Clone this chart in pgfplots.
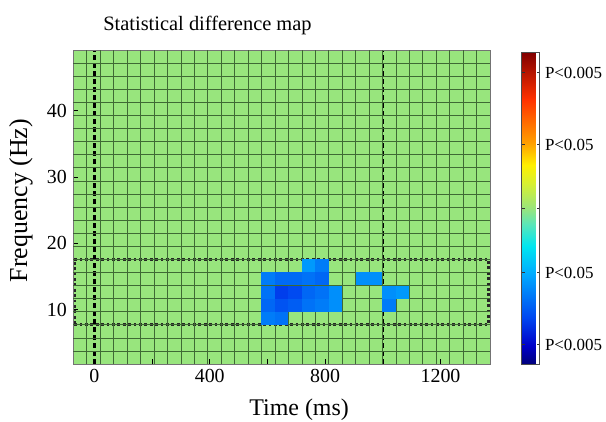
\documentclass[border=0pt]{standalone}
\usepackage{pgfplots}
\usepackage{pgfplotstable}
\pgfplotsset{compat=1.18}
\usepackage{fontspec}
\setmainfont{Liberation Serif}

\definecolor{cellgreen}{RGB}{152,229,125}
\definecolor{cellline}{RGB}{62,105,52}

% one time-frequency bin: 46.6 ms x 1.975 Hz
\pgfdeclareplotmark{cell}{%
  \pgfpathrectangle{\pgfpoint{-6.72bp}{-6.54bp}}{\pgfpoint{13.44bp}{13.08bp}}%
  \pgfusepathqfill}

% significant bins: centre time (ms), centre frequency (Hz), colour value
\pgfplotstableread{
x      y      p
742.5  16.61  0.266
789.1  16.61  0.226
602.7  14.64  0.226
649.3  14.64  0.200
695.9  14.64  0.200
742.5  14.64  0.212
789.1  14.64  0.196
928.9  14.64  0.252
975.5  14.64  0.252
602.7  12.66  0.212
649.3  12.66  0.140
695.9  12.66  0.155
742.5  12.66  0.196
789.1  12.66  0.212
835.7  12.66  0.252
1022.1 12.66  0.252
1068.7 12.66  0.266
602.7  10.69  0.196
649.3  10.69  0.168
695.9  10.69  0.182
742.5  10.69  0.212
789.1  10.69  0.226
835.7  10.69  0.252
1022.1 10.69  0.226
602.7  8.71   0.226
649.3  8.71   0.212
}\sigcells

\begin{document}
\begin{tikzpicture}
\useasboundingbox (0,0) rectangle (606bp,422bp);
\begin{axis}[
    at={(73.3bp,58bp)}, anchor=south west,
    scale only axis, width=416.7bp, height=314bp,
    xmin=-73, xmax=1371.6, ymin=1.8, ymax=49.2,
    axis on top,
    axis background/.style={fill=cellgreen},
    axis line style={black!55, line width=0.8bp},
    xtick={0,400,800,1200}, minor xtick={200,600,1000},
    ytick={10,20,30,40},
    xtick pos=left, ytick pos=left,
    tick align=inside,
    major tick length=5bp, minor tick length=5bp,
    tick style={black, line width=0.9bp},
    extra x ticks={-26.4,20.2,...,1326},
    extra y ticks={3.775,5.75,...,47.3},
    extra x tick labels={}, extra y tick labels={},
    extra tick style={grid=major, major tick length=0pt,
      major grid style={cellline, line width=0.6bp}},
    /pgf/number format/assume math mode=true,
    /pgf/number format/1000 sep={},
    ticklabel style={font=\fontsize{20}{24}\selectfont},
    xticklabel style={yshift=-2bp},
    yticklabel style={xshift=-3bp},
    title={Statistical difference map},
    title style={at={(axis description cs:0.322,1.06)}, anchor=center,
      font=\fontsize{20.5}{24}\selectfont},
    xlabel={Time (ms)},
    xlabel style={at={(axis description cs:0.542,-0.145)}, anchor=center,
      font=\fontsize{24}{28}\selectfont},
    ylabel={Frequency (Hz)},
    ylabel style={at={(axis description cs:-0.1255,0.52)}, anchor=center,
      font=\fontsize{26}{30}\selectfont},
    colormap={pmap}{
      rgb255(0pt)=(0,0,120);
      rgb255(6pt)=(0,0,200);
      rgb255(15pt)=(0,70,240);
      rgb255(29pt)=(0,170,255);
      rgb255(38pt)=(0,230,240);
      rgb255(45pt)=(90,230,185);
      rgb255(50pt)=(152,229,125);
      rgb255(58pt)=(215,240,50);
      rgb255(64pt)=(255,240,0);
      rgb255(71pt)=(255,160,0);
      rgb255(85pt)=(255,50,0);
      rgb255(100pt)=(130,0,0)
    },
    point meta min=0, point meta max=1,
    colorbar,
    colorbar style={
      at={(parent axis.north east)}, anchor=north west,
      xshift=23bp, yshift=-2.7bp,
      width=18bp, height=312bp,
      axis line style={black!70, line width=0.6bp},
      ytick={0.064,0.295,0.5,0.705,0.936},
      yticklabels={P<0.005,P<0.05,,P<0.05,P<0.005},
      ytick pos=both, yticklabel pos=right,
      tick align=inside, major tick length=3bp,
      tick style={black!80, line width=0.8bp},
      yticklabel style={font=\fontsize{17}{20}\selectfont, xshift=2bp},
    },
  ]
  \addplot[scatter, only marks, mark=cell, point meta=explicit,
    scatter/use mapped color={fill=mapped color}]
    table[x=x, y=y, meta=p] {\sigcells};

  % stimulus onset and offset
  \addplot[black, line width=2.4bp, dash pattern=on 5bp off 3bp]
    coordinates {(0,1.8) (0,49.2)};
  \addplot[black, line width=2.4bp, dash pattern=on 5bp off 3bp]
    coordinates {(1000,1.8) (1000,49.2)};

  % frequency band of interest
  \addplot[black!85, line width=3bp, dash pattern=on 2.8bp off 2.6bp]
    coordinates {(-70,7.725) (1366,7.725) (1366,17.6) (-70,17.6) (-70,7.725)};
\end{axis}
\end{tikzpicture}
\end{document}
